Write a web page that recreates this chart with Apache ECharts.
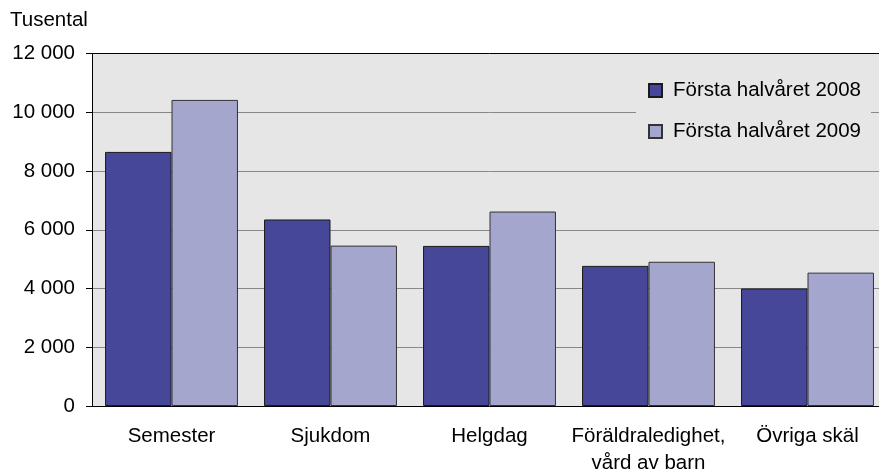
<!DOCTYPE html>
<html>
<head>
<meta charset="utf-8">
<script src="https://cdn.jsdelivr.net/npm/echarts@6/dist/echarts.min.js"></script>
<style>
html,body{margin:0;padding:0;background:#fff;overflow:hidden;width:879px;height:472px;}
#c{width:900px;height:472px;}
</style>
</head>
<body>
<div id="c"></div>
<script>
var categories = ['Semester', 'Sjukdom', 'Helgdag', 'Föräldraledighet,\nvård av barn', 'Övriga skäl'];
var series2008 = [8650, 6350, 5450, 4770, 4000];
var series2009 = [10420, 5460, 6620, 4910, 4540];
var seriesNames = ['Första halvåret 2008', 'Första halvåret 2009'];
var yTicks = [0, 2000, 4000, 6000, 8000, 10000, 12000];

var FONT = '"Liberation Sans", Arial, sans-serif';
var chart = echarts.init(document.getElementById('c'), null, {renderer: 'canvas'});
chart.setOption({
  animation: false,
  backgroundColor: '#ffffff',
  textStyle: {fontFamily: FONT},
  graphic: [{
    type: 'text', left: 10, top: 10,
    style: {text: 'Tusental', font: '20.5px ' + FONT, fill: '#000'}
  }],
  grid: {left: 92, top: 53.5, width: 795, bottom: 66, outerBoundsMode: 'none', containLabel: false,
    show: true, backgroundColor: '#E6E6E6', borderWidth: 0},
  legend: {
    orient: 'vertical', left: 636, top: 65,
    width: 240,
    padding: [15, 10, 14, 12],
    backgroundColor: '#E6E6E6',
    icon: 'rect',
    itemWidth: 13, itemHeight: 13, itemGap: 20,
    textStyle: {fontSize: 20.5, color: '#000', fontFamily: FONT, padding: [0, 0, 0, 6]},
    data: seriesNames
  },
  xAxis: {
    type: 'category', data: categories,
    axisLine: {lineStyle: {color: '#000', width: 1}},
    axisTick: {show: false},
    axisLabel: {fontSize: 20.5, color: '#000', lineHeight: 27, margin: 17, interval: 0, fontFamily: FONT}
  },
  yAxis: {
    type: 'value', min: 0, max: 12000, interval: 2000,
    axisLine: {show: true, lineStyle: {color: '#000', width: 1}},
    axisTick: {show: true, length: 6, lineStyle: {color: '#000'}},
    splitLine: {lineStyle: {color: ['#888888', '#888888', '#888888', '#888888', '#888888', '#888888', '#000000'], width: 1}},
    axisLabel: {fontSize: 20.5, color: '#000', margin: 17, fontFamily: FONT,
      formatter: function (v) { return yTicks.indexOf(v) >= 0 ? String(v).replace(/\B(?=(\d{3})+(?!\d))/g, ' ') : ''; }}
  },
  series: [{
    name: seriesNames[0], type: 'bar', data: series2008,
    barGap: '0%', barCategoryGap: '16.4%',
    itemStyle: {color: '#47479A', borderColor: '#1a1a1a', borderWidth: 1}
  }, {
    name: seriesNames[1], type: 'bar', data: series2009,
    itemStyle: {color: '#A5A6CD', borderColor: '#333333', borderWidth: 1}
  }]
});
</script>
</body>
</html>
